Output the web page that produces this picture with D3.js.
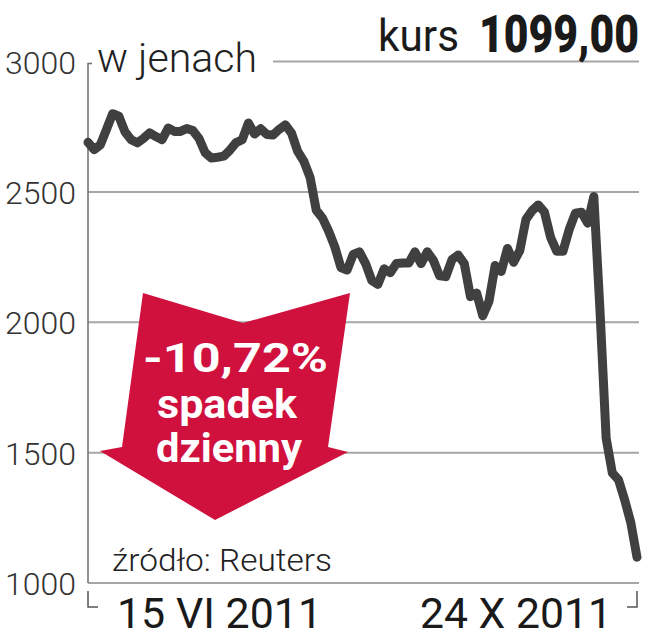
<!DOCTYPE html>
<html><head><meta charset="utf-8">
<script src="https://cdn.jsdelivr.net/npm/d3@7/dist/d3.min.js"></script>
<style>body{margin:0;background:#fff}svg{display:block}</style>
</head><body>
<svg id="c" width="656" height="640"></svg>
<script>
// ---- data ----
const dateLabels = ["15 VI 2011", "24 X 2011"];
const yTicks = [1000, 1500, 2000, 2500, 3000];
const prices = [
  2690, 2662, 2680, 2740, 2800, 2790, 2730, 2700, 2688, 2705,
  2726, 2712, 2700, 2745, 2732, 2732, 2743, 2735, 2705, 2650,
  2630, 2633, 2637, 2660, 2689, 2700, 2764, 2722, 2742, 2720,
  2718, 2740, 2757, 2725, 2655, 2617, 2556, 2430, 2400, 2350,
  2290, 2210, 2200, 2260, 2270, 2225, 2160, 2145, 2205, 2190,
  2225, 2227, 2227, 2270, 2225, 2270, 2237, 2178, 2175, 2240,
  2258, 2225, 2098, 2112, 2025, 2080, 2218, 2195, 2283, 2230,
  2275, 2395, 2428, 2450, 2422, 2325, 2272, 2272, 2355, 2418,
  2422, 2380, 2482, 2045, 1555, 1422, 1396, 1319, 1231, 1099
];
const titleLabel = "kurs";
const lastValueLabel = "1099,00";
const unitLabel = "w jenach";
const changeLines = ["-10,72%", "spadek", "dzienny"];
const sourceLabel = "źródło: Reuters";

(function () {
// ---- layout ----
const svg = d3.select("#c");
const pLeft = 88, pRight = 637, gridRight = 639, pTop = 61.5, pBottom = 583;
const x = d3.scaleLinear().domain([0, prices.length - 1]).range([pLeft, pRight]);
const y = d3.scaleLinear().domain([1000, 3000]).range([pBottom, pTop]);
const font = "Roboto, 'Noto Sans', sans-serif";

// gridlines
svg.append("g").selectAll("line").data(yTicks).join("line")
  .attr("x1", d => d === 3000 ? 273 : pLeft)
  .attr("x2", gridRight)
  .attr("y1", d => y(d)).attr("y2", d => y(d))
  .attr("stroke", "#a6a6a6").attr("stroke-width", 2);

// y axis labels
const yAxis = svg.append("g").attr("transform", `translate(${pLeft},0)`)
  .call(d3.axisLeft(y).tickValues(yTicks).tickSize(0).tickPadding(12).tickFormat(d3.format("d")));
yAxis.select(".domain").remove();
yAxis.selectAll("text")
  .attr("font-family", font).attr("font-weight", 300).attr("font-size", 32)
  .attr("fill", "#333").attr("dy", "0.36em");

// vertical axis bracket
svg.append("path")
  .attr("d", `M${pLeft + 4},${pTop + 2}H${pLeft}V${pBottom}`)
  .attr("fill", "none").attr("stroke", "#6e6e6e").attr("stroke-width", 1.5);
// bottom brackets
svg.append("path")
  .attr("d", `M${pLeft},${pBottom + 8}V${pBottom + 24}H${pLeft + 10}`)
  .attr("fill", "none").attr("stroke", "#555").attr("stroke-width", 1.5);
svg.append("path")
  .attr("d", `M${pRight},${pBottom + 8}V${pBottom + 24}H${pRight - 10}`)
  .attr("fill", "none").attr("stroke", "#555").attr("stroke-width", 1.5);

// date labels
svg.append("text").text(dateLabels[0])
  .attr("x", 117).attr("y", 628)
  .attr("font-family", font).attr("font-weight", 400).attr("font-size", 43)
  .attr("fill", "#1a1a1a").attr("textLength", 205).attr("lengthAdjust", "spacingAndGlyphs");
svg.append("text").text(dateLabels[1])
  .attr("x", 420).attr("y", 628)
  .attr("font-family", font).attr("font-weight", 400).attr("font-size", 43)
  .attr("fill", "#1a1a1a").attr("textLength", 192).attr("lengthAdjust", "spacingAndGlyphs");

// unit label
svg.append("text").text(unitLabel)
  .attr("x", 97).attr("y", 72)
  .attr("font-family", font).attr("font-weight", 300).attr("font-size", 40)
  .attr("fill", "#222").attr("textLength", 160).attr("lengthAdjust", "spacingAndGlyphs");

// title
svg.append("text").text(titleLabel)
  .attr("x", 378).attr("y", 51)
  .attr("font-family", font).attr("font-weight", 400).attr("font-size", 45)
  .attr("fill", "#1a1a1a").attr("textLength", 81).attr("lengthAdjust", "spacingAndGlyphs");
const valText = svg.append("text").text(lastValueLabel)
  .attr("font-family", font).attr("font-weight", 900).attr("font-size", 51)
  .attr("fill", "#1a1a1a");
const natW = valText.node().getComputedTextLength();
valText.attr("transform", `translate(479,52) scale(${160 / natW},1)`);

// red arrow
const arrowPts = [[143,293],[243,323],[350,293],[328,447],[348,452],[215,520],[100,451],[122,447]];
svg.append("polygon")
  .attr("points", arrowPts.map(p => p.join(",")).join(" "))
  .attr("fill", "#d0103d");
const changePos = [[143, 372, 185], [157, 418, 140], [156, 462, 146]];
svg.append("g").selectAll("text").data(changeLines).join("text")
  .text(d => d)
  .attr("x", (d, i) => changePos[i][0]).attr("y", (d, i) => changePos[i][1])
  .attr("textLength", (d, i) => changePos[i][2]).attr("lengthAdjust", "spacingAndGlyphs")
  .attr("font-family", font).attr("font-weight", 700).attr("font-size", 40)
  .attr("fill", "#fff");

// source
svg.append("text").text(sourceLabel)
  .attr("x", 112).attr("y", 571)
  .attr("font-family", font).attr("font-weight", 300).attr("font-size", 32)
  .attr("fill", "#222").attr("textLength", 220).attr("lengthAdjust", "spacingAndGlyphs");

// price line
svg.append("path").datum(prices)
  .attr("d", d3.line().x((d, i) => x(i)).y(d => y(d)))
  .attr("fill", "none").attr("stroke", "#404040").attr("stroke-width", 9)
  .attr("stroke-linejoin", "round").attr("stroke-linecap", "round");
})();
</script>
</body></html>
